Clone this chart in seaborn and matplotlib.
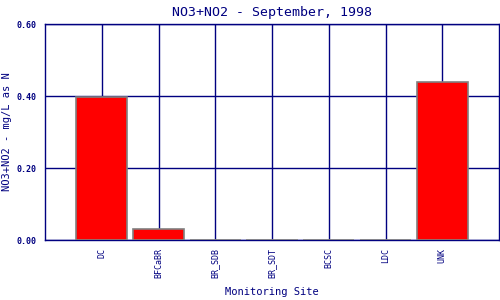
import matplotlib
matplotlib.use("Agg")
import matplotlib.pyplot as plt
import seaborn as sns
import pandas as pd

sites = ["DC", "BFCaBR", "BR_SDB", "BR_SDT", "BCSC", "LDC", "UNK"]
values = [0.397, 0.030, 0.0, 0.0, 0.0, 0.0, 0.438]
yticks = [0.0, 0.2, 0.4, 0.6]
ytick_labels = ["0.00", "0.20", "0.40", "0.60"]

navy = "#000080"
sns.set_style("white")
plt.rcParams['font.family'] = ['DejaVu Sans Mono', 'DejaVu Sans']

fig = plt.figure(figsize=(5, 3), dpi=100)
ax = fig.add_axes([0.09, 0.2, 0.908, 0.72])

df = pd.DataFrame({"site": sites, "value": values})
sns.barplot(data=df, x="site", y="value", color="#ff0000", width=0.9,
            edgecolor="#808080", linewidth=1.2, saturation=1, ax=ax, zorder=3)

ax.set_xlim(-1, len(sites))
ax.set_ylim(0, 0.6)
ax.set_yticks(yticks)
ax.set_yticklabels(ytick_labels, fontsize=6, color=navy, fontweight="bold")
ax.set_xticks(range(len(sites)))
ax.set_xticklabels(sites, rotation=90, fontsize=6, color=navy)
ax.tick_params(axis="both", length=0, pad=6)
ax.grid(True, color=navy, linewidth=1)
ax.set_axisbelow(True)
for s in ax.spines.values():
    s.set_color(navy)
    s.set_linewidth(1)

ax.set_xlabel("Monitoring Site", fontsize=7.5, color=navy, labelpad=6)
ax.set_ylabel("NO3+NO2 - mg/L as N", fontsize=7.5, color=navy, labelpad=3)
ax.set_title("NO3+NO2 - September, 1998", fontsize=9.5, color=navy, pad=6)

fig.savefig("out.png", dpi=100, facecolor="white")
